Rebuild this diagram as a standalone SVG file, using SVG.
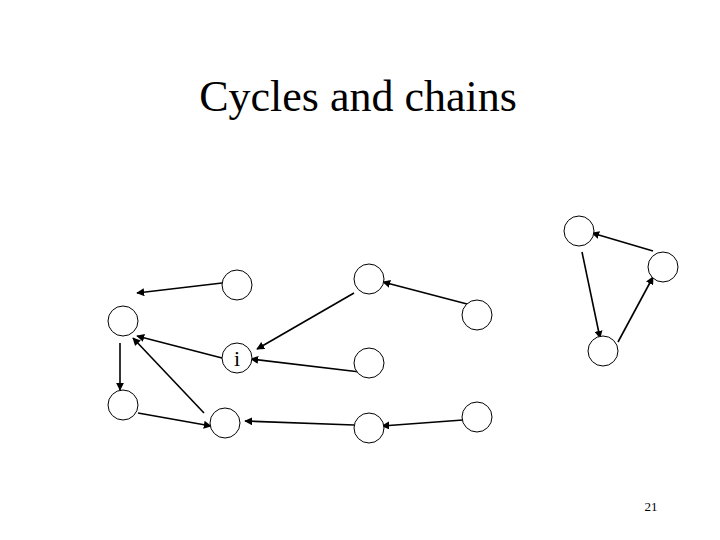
<svg xmlns="http://www.w3.org/2000/svg" width="720" height="540" viewBox="0 0 720 540">
<style>
.n{fill:#fff;stroke:#000;stroke-width:1}
.e{stroke:#000;stroke-width:1.6;fill:none;marker-end:url(#a)}
.t{font-family:"Liberation Serif",serif;fill:#000}
</style>
<defs>
<marker id="a" viewBox="0 0 10 10" refX="9" refY="5" markerWidth="5" markerHeight="5" orient="auto" markerUnits="strokeWidth">
<path d="M0,0 L10,5 L0,10 z" fill="#000"/>
</marker>
</defs>
<rect width="720" height="540" fill="#fff"/>
<text class="t" x="358" y="111" font-size="44" text-anchor="middle">Cycles and chains</text>
<g id="connectors">
<line class="e" x1="222" y1="283" x2="137" y2="293"/>
<line class="e" x1="222" y1="358" x2="137" y2="336"/>
<line class="e" x1="204" y1="413" x2="133" y2="338"/>
<line class="e" x1="120" y1="343" x2="120" y2="390"/>
<line class="e" x1="138" y1="413" x2="211" y2="426"/>
<line class="e" x1="354" y1="293" x2="257" y2="349"/>
<line class="e" x1="467" y1="304" x2="383" y2="282"/>
<line class="e" x1="360" y1="372" x2="251" y2="359"/>
<line class="e" x1="354" y1="425" x2="245" y2="421"/>
<line class="e" x1="463" y1="420" x2="382" y2="426"/>
<line class="e" x1="653" y1="251" x2="592" y2="233"/>
<line class="e" x1="582" y1="252" x2="600" y2="338"/>
<line class="e" x1="618" y1="342" x2="653" y2="277"/>
</g>
<g id="nA"><circle class="n" cx="237" cy="285" r="15"/></g>
<g id="nB"><circle class="n" cx="123" cy="321" r="15"/></g>
<g id="ni"><circle class="n" cx="237" cy="358" r="15"/><text class="t" x="237" y="366" font-size="22" text-anchor="middle">i</text></g>
<g id="nC"><circle class="n" cx="123" cy="405" r="15"/></g>
<g id="nD"><circle class="n" cx="225" cy="423" r="15"/></g>
<g id="nE"><circle class="n" cx="369" cy="279" r="15"/></g>
<g id="nF"><circle class="n" cx="477" cy="315" r="15"/></g>
<g id="nG"><circle class="n" cx="369" cy="363" r="15"/></g>
<g id="nH"><circle class="n" cx="369" cy="428" r="15"/></g>
<g id="nJ"><circle class="n" cx="477" cy="417" r="15"/></g>
<g id="nK"><circle class="n" cx="579" cy="231" r="15"/></g>
<g id="nL"><circle class="n" cx="663" cy="267" r="15"/></g>
<g id="nM"><circle class="n" cx="603" cy="351" r="15"/></g>
<text class="t" x="651" y="511" font-size="13" text-anchor="middle">21</text>
</svg>
